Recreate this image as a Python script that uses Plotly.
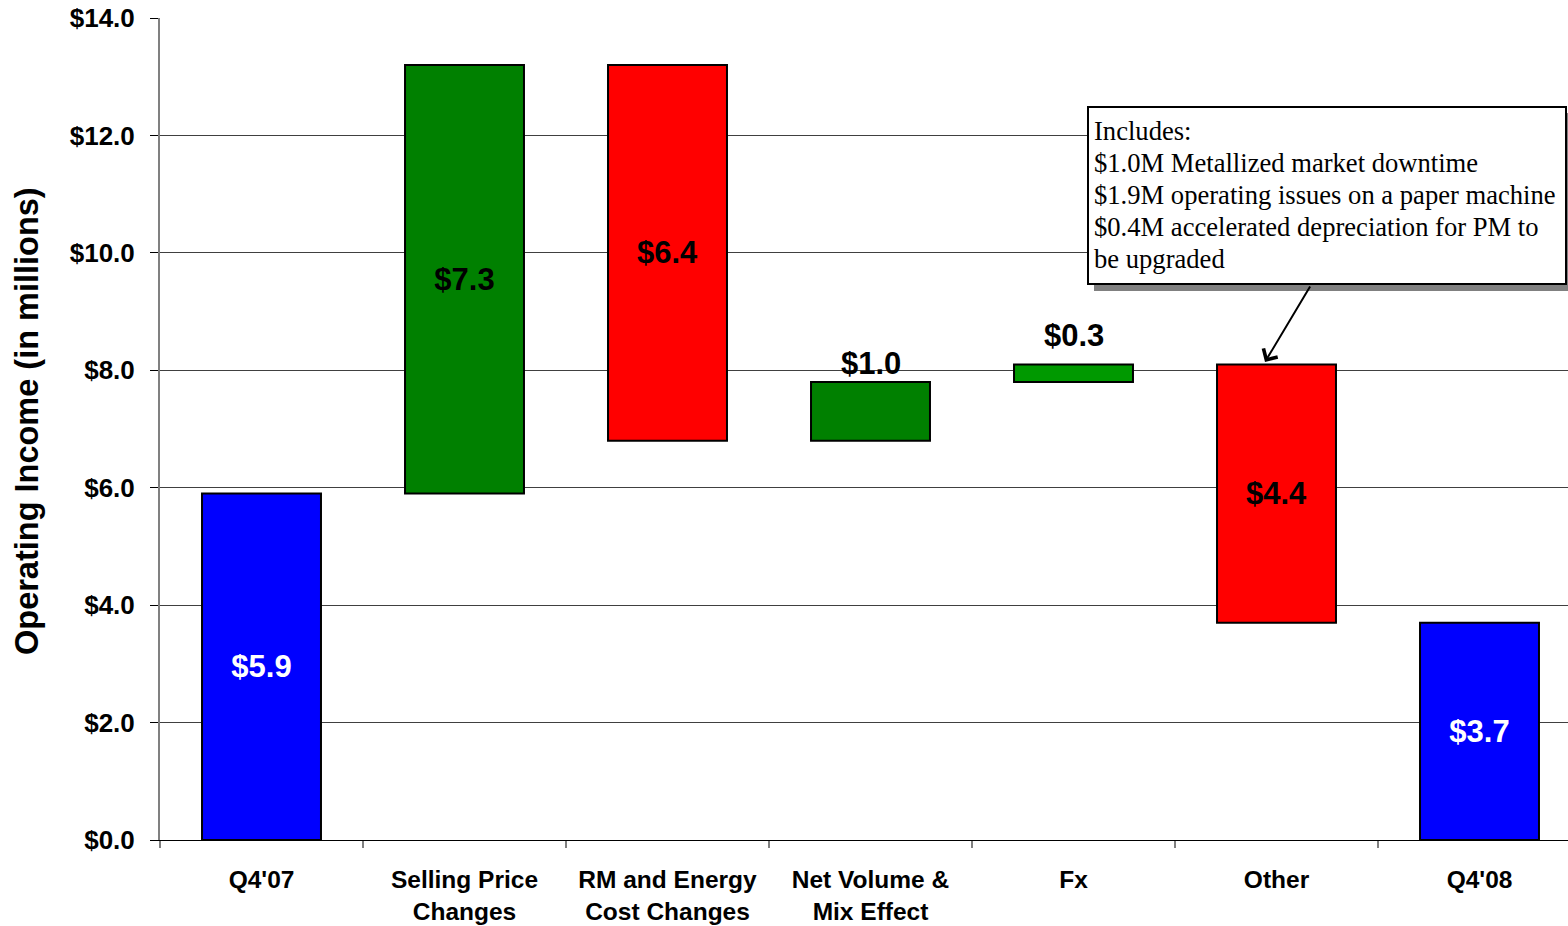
import plotly.graph_objects as go

# Operating income bridge, Q4'07 -> Q4'08 (in $ millions)
categories = ["Q4'07", "Selling Price<br>Changes", "RM and Energy<br>Cost Changes",
              "Net Volume &<br>Mix Effect", "Fx", "Other", "Q4'08"]
changes = [5.9, 7.3, -6.4, 1.0, 0.3, -4.4, 3.7]
kinds = ["total", "step", "step", "step", "step", "step", "total"]
bar_colors = ["#0000FF", "#008000", "#FF0000", "#008000", "#009900", "#FF0000", "#0000FF"]
label_colors = ["white", "black", "black", "black", "black", "black", "white"]
label_inside = [True, True, True, False, False, True, True]
label_lift = [0, 0, 0, 19, 29, 0, 0]   # px above bar top for labels set outside

note_lines = [
    "Includes:",
    "$1.0M Metallized market downtime",
    "$1.9M operating issues on a paper machine",
    "$0.4M accelerated depreciation for PM to",
    "be upgraded",
]

# running level for the floating bars
bases, running = [], 0.0
for v, k in zip(changes, kinds):
    if k == "total":
        bases.append(0.0)
        running = v
    else:
        bases.append(running)
        running += v

labels = [f"${abs(v):.1f}" for v in changes]

W, H = 1568, 926
L, R, T, B = 160, 0, 18, 86
pw, ph = W - L - R, H - T - B
CAT_PX = 203.0  # width of one category slot


def px_x(px):
    return (px - L) / pw


def px_y(py):
    return (H - B - py) / ph


LABEL_FONT = "Liberation Sans, Arial"

fig = go.Figure()
fig.add_trace(go.Bar(
    x=categories,
    y=changes,
    base=bases,
    width=0.586,
    marker=dict(color=bar_colors, line=dict(color="black", width=2)),
    text=[t if ins else "" for t, ins in zip(labels, label_inside)],
    textposition="inside",
    insidetextanchor="middle",
    textangle=0,
    constraintext="none",
    insidetextfont=dict(family=LABEL_FONT, size=31, color=label_colors, weight="bold"),
    cliponaxis=False,
    hoverinfo="skip",
))

# value labels sitting above the small bars
for cat, v, b, ins, lift, lab in zip(categories, changes, bases, label_inside, label_lift, labels):
    if ins:
        continue
    fig.add_annotation(
        x=cat, y=max(b, b + v), xref="x", yref="y",
        yanchor="middle", yshift=lift, showarrow=False, text=lab,
        font=dict(family=LABEL_FONT, size=31, color="black", weight="bold"),
    )

# callout box with drop shadow
fig.add_shape(type="rect", xref="paper", yref="paper",
              x0=px_x(1094), x1=px_x(1575), y0=px_y(291), y1=px_y(113),
              fillcolor="#808080", line=dict(width=0), layer="above")
fig.add_shape(type="rect", xref="paper", yref="paper",
              x0=px_x(1088), x1=px_x(1566), y0=px_y(284), y1=px_y(107),
              fillcolor="white", line=dict(color="black", width=2), layer="above")
for i, line in enumerate(note_lines):
    fig.add_annotation(
        xref="paper", yref="paper", x=px_x(1092), y=px_y(131 + 32 * i),
        xanchor="left", yanchor="middle", align="left", showarrow=False,
        text=line,
        font=dict(family="Liberation Serif, Times New Roman", size=26.6, color="black"),
    )
# pointer from the callout to the Other bar
fig.add_annotation(
    xref="paper", yref="paper", x=px_x(1265), y=px_y(362),
    ax=46, ay=-77, text="", showarrow=True,
    arrowhead=4, arrowsize=1.6, arrowwidth=2, arrowcolor="black",
)

# rotated axis title
fig.add_annotation(
    xref="paper", yref="paper", x=px_x(27), y=px_y(421),
    xanchor="center", yanchor="middle", textangle=-90, showarrow=False,
    text="Operating Income (in millions)",
    font=dict(family=LABEL_FONT, size=32.5, color="black", weight="bold"),
)

fig.update_layout(
    width=W, height=H,
    margin=dict(l=L, r=R, t=T, b=B, autoexpand=False),
    paper_bgcolor="white", plot_bgcolor="white",
    showlegend=False,
)
fig.update_xaxes(
    type="category",
    range=[-0.5, -0.5 + pw / CAT_PX],
    automargin=False,
    tickson="boundaries",
    ticks="outside", ticklen=7, tickcolor="#808080", tickwidth=2,
    ticklabelstandoff=18,
    showline=True, linecolor="black", linewidth=1,
    showgrid=False,
    tickfont=dict(family=LABEL_FONT, size=24.5, color="black", weight="bold"),
)
fig.update_yaxes(
    range=[0, 14], dtick=2, tickprefix="$", tickformat=".1f",
    automargin=False,
    ticks="outside", ticklen=8, tickcolor="black", tickwidth=1,
    ticklabelstandoff=10,
    showline=True, linecolor="#808080", linewidth=2,
    showgrid=True, gridcolor="#404040", gridwidth=1,
    zeroline=False,
    tickfont=dict(family=LABEL_FONT, size=26, color="black", weight="bold"),
)

fig.write_html("out.html")
